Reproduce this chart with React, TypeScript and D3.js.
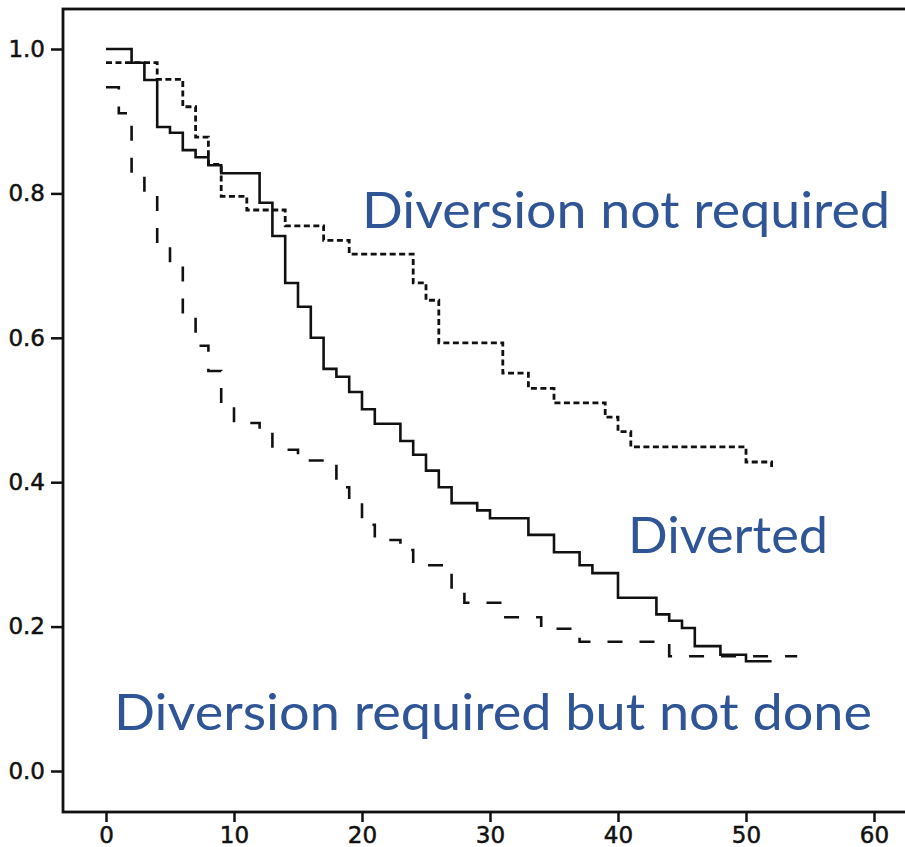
import * as d3 from 'd3';
import { useEffect, useRef } from 'react';

// Kaplan-Meier style step curves
const divertedTime = [0, 2, 3, 4, 5, 6, 7, 8, 9, 12, 13, 14, 15, 16, 17, 18, 19, 20, 21, 23, 24, 25, 26, 27, 29, 30, 33, 35, 37, 38, 40, 43, 44, 45, 46, 48, 50, 52];
const divertedSurv = [1.0, 0.981, 0.957, 0.892, 0.884, 0.86, 0.85, 0.839, 0.828, 0.787, 0.741, 0.676, 0.643, 0.6, 0.557, 0.546, 0.525, 0.501, 0.481, 0.457, 0.438, 0.416, 0.393, 0.371, 0.361, 0.35, 0.327, 0.303, 0.285, 0.274, 0.24, 0.217, 0.208, 0.198, 0.173, 0.161, 0.152, 0.152];

const notRequiredTime = [0, 4, 6, 7, 8, 9, 11, 14, 17, 19, 24, 25, 26, 31, 33, 35, 39, 40, 41, 50, 52];
const notRequiredSurv = [0.981, 0.958, 0.92, 0.878, 0.84, 0.796, 0.777, 0.755, 0.735, 0.716, 0.676, 0.652, 0.593, 0.551, 0.53, 0.51, 0.49, 0.47, 0.449, 0.428, 0.417];

const notDoneTime = [0, 1, 2, 3, 4, 5, 6, 7, 8, 9, 10, 12, 13, 15, 18, 19, 20, 21, 23, 24, 27, 28, 31, 34, 37, 44, 54];
const notDoneSurv = [0.947, 0.911, 0.824, 0.802, 0.729, 0.701, 0.63, 0.589, 0.554, 0.507, 0.482, 0.47, 0.445, 0.43, 0.393, 0.373, 0.341, 0.32, 0.306, 0.285, 0.249, 0.233, 0.213, 0.197, 0.179, 0.159, 0.159];

const xTicks = [0, 10, 20, 30, 40, 50, 60];
const yTicks = [0, 0.2, 0.4, 0.6, 0.8, 1.0];

const labels = [
    { text: 'Diversion not required', x: 362, y: 228, w: 528 },
    { text: 'Diverted', x: 628, y: 553, w: 200 },
    { text: 'Diversion required but not done', x: 114, y: 730, w: 758 },
];

const width = 905;
const height = 847;
const frame = { left: 63, top: 9, bottom: 812, right: 912 };

const x = d3.scaleLinear().domain([0, 60]).range([106, 874]);
const y = d3.scaleLinear().domain([0, 1]).range([771, 49]);

const toPts = (t: number[], s: number[]) => t.map((v, i) => [v, s[i]] as [number, number]);

const line = d3.line<[number, number]>()
    .x(d => x(d[0]))
    .y(d => y(d[1]))
    .curve(d3.curveStepAfter);

function App() {
    const xAxis = useRef<SVGGElement>(null);
    const yAxis = useRef<SVGGElement>(null);

    useEffect(() => {
        const axisB = d3.axisBottom(x).tickValues(xTicks).tickSize(10).tickPadding(5).tickFormat(d3.format('d'));
        const axisL = d3.axisLeft(y).tickValues(yTicks).tickSize(12).tickPadding(6).tickFormat(d3.format('.1f'));

        const gx = d3.select(xAxis.current!).call(axisB);
        const gy = d3.select(yAxis.current!).call(axisL);
        [gx, gy].forEach(g => {
            g.attr('font-size', 23).attr('font-family', '"DejaVu Sans", sans-serif');
            g.select('.domain').remove();
            g.selectAll('line').attr('stroke', '#111').attr('stroke-width', 2.5);
            g.selectAll('text')
                .attr('fill', '#111')
                .attr('font-size', 23)
                .attr('stroke', '#111')
                .attr('stroke-width', 0.5);
        });
    }, []);

    return (
        <svg width={width} height={height} style={{ position: 'absolute', left: 0, top: 0, background: '#fff' }}>
            <rect x={frame.left} y={frame.top} width={frame.right - frame.left} height={frame.bottom - frame.top}
                fill="none" stroke="#111" strokeWidth={2.8} />
            <g ref={xAxis} transform={`translate(0, ${frame.bottom})`}></g>
            <g ref={yAxis} transform={`translate(${frame.left}, 0)`}></g>

            <path d={line(toPts(notRequiredTime, notRequiredSurv)) || ''} fill="none" stroke="#111"
                strokeWidth={2.8} strokeDasharray="6,3.5" />
            <path d={line(toPts(notDoneTime, notDoneSurv)) || ''} fill="none" stroke="#111"
                strokeWidth={2.6} strokeDasharray="15,17" />
            <path d={line(toPts(divertedTime, divertedSurv)) || ''} fill="none" stroke="#111"
                strokeWidth={2.6} />

            {labels.map(l => (
                <text key={l.text} x={l.x} y={l.y} textLength={l.w} lengthAdjust="spacingAndGlyphs"
                    fill="#2f5597" style={{ fontFamily: 'Lato, "Open Sans", sans-serif', fontSize: 51 }}>
                    {l.text}
                </text>
            ))}
        </svg>
    );
}

export default App;
